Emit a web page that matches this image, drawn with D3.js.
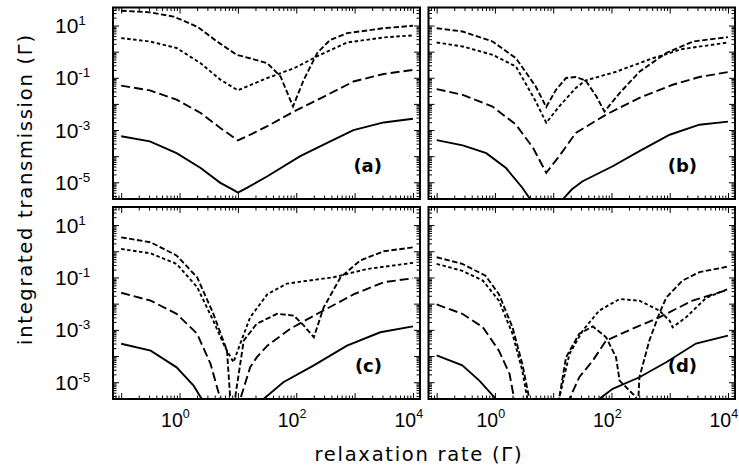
<!DOCTYPE html>
<html>
<head>
<meta charset="utf-8">
<script src="https://cdn.jsdelivr.net/npm/d3@7"></script>
<style>
body { margin: 0; background: #fff; }
</style>
</head>
<body>
<div id="graph"></div>
<script>
'use strict';

// each curve is a list of [relaxation rate, integrated transmission]
// points at 1e-6 sit below the plotted range (the curve dips out of the box)
const a_solid = [[0.1, 5.8e-4], [0.31, 3.7e-4], [0.89, 1.3e-4], [2.3, 3.5e-5], [5, 9.5e-6], [8.5, 5e-6], [10, 4.0e-6], [14.5, 6.2e-6], [32, 1.7e-5], [117, 1.0e-4], [339, 3.2e-4], [955, 1.0e-3], [3162, 1.95e-3], [10000, 2.7e-3]];
const a_long = [[0.1, 5.0e-2], [0.31, 3.3e-2], [0.89, 1.45e-2], [2.3, 4.5e-3], [5, 1.2e-3], [10, 4.0e-4], [14.5, 5.8e-4], [32, 1.4e-3], [91, 5.1e-3], [339, 2.2e-2], [955, 7.2e-2], [3162, 0.14], [10000, 0.2]];
const a_dot = [[0.1, 3.3], [0.31, 2.45], [0.89, 1.38], [2.3, 0.36], [5, 8.5e-2], [10, 3.3e-2], [14.5, 4.7e-2], [32, 9.8e-2], [91, 0.23], [257, 0.76], [741, 2.24], [3162, 3.5], [10000, 4.2]];
const a_dash = [[0.1, 37], [0.31, 32], [0.79, 22], [2, 9.1], [4.4, 2.45], [9.5, 0.76], [16, 0.56], [32, 0.36], [54, 0.11], [88, 8e-3], [135, 8.5e-2], [229, 0.89], [380, 2.8], [741, 5.1], [3162, 7.9], [10000, 9.8]];

const b_solid = [[0.1, 4.1e-4], [0.28, 2.6e-4], [0.71, 1.3e-4], [1.55, 3.5e-5], [2.95, 6.2e-6], [4, 2.3e-6], [4.6, 1e-6], [13, 1e-6], [14.8, 2.3e-6], [21, 5.4e-6], [32, 1.1e-5], [105, 4.1e-5], [302, 1.55e-4], [1000, 6.6e-4], [3236, 1.6e-3], [10000, 2.1e-3]];
const b_long = [[0.1, 3.7e-2], [0.28, 2.2e-2], [0.91, 7.9e-3], [2.3, 1.6e-3], [4.5, 2.1e-4], [7.6, 2.3e-5], [12.6, 9.8e-5], [24.5, 7.8e-4], [81, 3.9e-3], [302, 1.7e-2], [1122, 5.4e-2], [3236, 0.107], [10000, 0.166]];
const b_dot = [[0.1, 2.24], [0.28, 1.58], [0.91, 0.76], [2.3, 0.27], [5, 1.26e-2], [7.6, 1.9e-3], [12.6, 7.9e-3], [24.5, 4.1e-2], [36, 7.9e-2], [120, 0.17], [513, 0.56], [1660, 1.26], [10000, 2.24]];
const b_dash = [[0.1, 7.9], [0.28, 5.9], [0.91, 2.45], [2.3, 0.56], [5, 4.7e-2], [7.6, 7.6e-3], [11.2, 3.5e-2], [16.6, 9.8e-2], [24.5, 0.107], [36, 7.9e-2], [55, 1.95e-2], [76, 5.1e-3], [138, 2.6e-2], [302, 0.17], [871, 0.89], [2512, 2.45], [10000, 3.6]];

const c_solid = [[0.1, 2.95e-4], [0.32, 1.6e-4], [0.89, 3.7e-5], [1.74, 7.4e-6], [2.4, 2.3e-6], [2.8, 1e-6], [25, 1e-6], [27.5, 2.3e-6], [60, 1e-5], [200, 4.4e-5], [741, 2.5e-4], [2754, 8.1e-4], [10000, 1.35e-3]];
const c_long = [[0.1, 2.6e-2], [0.32, 1.3e-2], [0.89, 4.1e-3], [2, 7.1e-4], [3.4, 5e-5], [5, 2.3e-6], [5.6, 1e-6], [10.5, 1e-6], [11, 2.3e-6], [16.2, 3.7e-5], [21, 8.9e-5], [32, 2.5e-4], [79, 1.1e-3], [257, 4.7e-3], [977, 2.3e-2], [3162, 6.6e-2], [10000, 9.3e-2]];
const c_dot = [[0.1, 1.23], [0.32, 0.83], [0.89, 0.33], [2, 4.3e-2], [3.8, 2.2e-3], [6, 2.2e-4], [8.4, 5.8e-5], [11, 3.0e-4], [16.2, 3.0e-3], [32, 2.3e-2], [69, 5.8e-2], [200, 8.1e-2], [437, 0.102], [1622, 0.21], [10000, 0.36]];
const c_dash = [[0.1, 3.4], [0.32, 2.2], [0.89, 0.69], [2, 0.102], [3.8, 4.1e-3], [6.5, 1.6e-4], [7.4, 2.3e-6], [7.8, 1e-6], [8.5, 1e-6], [8.9, 2.3e-6], [12.6, 3.9e-4], [21, 1.7e-3], [47, 4.1e-3], [91, 3.5e-3], [135, 1.45e-3], [200, 5.2e-4], [295, 7.2e-3], [575, 0.102], [1259, 0.45], [3162, 1.0], [10000, 1.41]];

const d_solid = [[0.1, 1.05e-4], [0.275, 4.4e-5], [0.54, 1.15e-5], [1.04, 2.3e-6], [1.2, 1e-6], [55, 1e-6], [62, 2.3e-6], [105, 5.6e-6], [302, 1.55e-5], [871, 5.8e-5], [2818, 3.0e-4], [10000, 6.0e-4]];
const d_long = [[0.1, 9.3e-3], [0.275, 4.1e-3], [0.62, 1.26e-3], [1.17, 1.6e-4], [1.78, 2.1e-5], [2.14, 2.3e-6], [2.4, 1e-6], [17, 1e-6], [19, 2.3e-6], [28, 1.55e-5], [48, 6.8e-5], [81, 3.9e-4], [229, 1.1e-3], [661, 3.0e-3], [2455, 1.3e-2], [10000, 3.4e-2]];
const d_dot = [[0.1, 0.33], [0.275, 0.18], [0.62, 7.6e-2], [1.17, 1.3e-2], [2, 7.1e-4], [2.95, 2.8e-5], [3.6, 2.3e-6], [4, 1e-6], [11.5, 1e-6], [12.6, 2.3e-6], [19, 1.2e-4], [32, 9.3e-4], [62, 5.5e-3], [138, 1.5e-2], [302, 1.3e-2], [661, 5.5e-3], [1000, 2.2e-3], [1122, 1.26e-3], [1905, 3.0e-3], [4266, 1.7e-2], [10000, 3.6e-2]];
const d_dash = [[0.1, 0.59], [0.275, 0.33], [0.69, 0.117], [1.17, 2.3e-2], [2, 1.26e-3], [2.95, 5e-5], [3.9, 2.3e-6], [4.3, 1e-6], [11.5, 1e-6], [12.6, 2.3e-6], [16.6, 8.9e-5], [28, 7.1e-4], [48, 1.35e-3], [81, 5.2e-4], [120, 8.9e-5], [138, 1.15e-5], [263, 2.7e-6], [285, 1e-6], [302, 1.55e-5], [447, 3.9e-4], [661, 4.1e-3], [871, 1.7e-2], [1660, 7.6e-2], [3236, 0.16], [10000, 0.26]];

const panel_names = ['(a)', '(b)', '(c)', '(d)'];
const y_tick_values = [10, 0.1, 1e-3, 1e-5];
const y_tick_exps = ['1', '-1', '-3', '-5'];
const x_tick_values = [1, 100, 10000];
const x_tick_exps = ['0', '2', '4'];
const x_title = 'relaxation rate (\u0393)';
const y_title = 'integrated transmission (\u0393)';

// line style per curve: solid, long dash, short dash, medium dash
const dashes = [null, '9,4', '3.5,2.5', '5.5,2.5'];

const panels = [
    { name: panel_names[0], curves: [a_solid, a_long, a_dot, a_dash], col: 0, row: 0 },
    { name: panel_names[1], curves: [b_solid, b_long, b_dot, b_dash], col: 1, row: 0 },
    { name: panel_names[2], curves: [c_solid, c_long, c_dot, c_dash], col: 0, row: 1 },
    { name: panel_names[3], curves: [d_solid, d_long, d_dot, d_dash], col: 1, row: 1 }
];

const width = 739, height = 468;
const cols = [[113, 420], [428.5, 735]];
const rows = [[7.5, 199], [207, 399]];

const svg = d3.select('#graph')
      .append('svg')
      .attr('width', width)
      .attr('height', height);

const num_font = '"Liberation Sans", Arial, sans-serif';
const title_font = '"DejaVu Sans", sans-serif';

function power_label(g, px, py, exp, size, sup_size, shift) {
    const t = g.append('text')
        .attr('x', px)
        .attr('y', py)
        .attr('text-anchor', 'start')
        .attr('font-family', num_font)
        .attr('font-size', size);
    t.append('tspan').text('10');
    t.append('tspan').attr('dy', -shift).attr('font-size', sup_size).text(exp);
}

panels.forEach((p, pi) => {
    const [x0, x1] = cols[p.col];
    const [y0, y1] = rows[p.row];

    const x = d3.scaleLog().domain([0.0724, 13200]).range([x0, x1]);
    const y = d3.scaleLog().domain([2.29e-6, 49]).range([y1, y0]);

    const is_major = v => Math.abs(Math.log10(v) - Math.round(Math.log10(v))) < 1e-6;
    const xt = x.ticks(), yt = y.ticks();
    const x_major = xt.filter(is_major), x_minor = xt.filter(v => !is_major(v));
    const y_major = yt.filter(is_major), y_minor = yt.filter(v => !is_major(v));

    const g = svg.append('g');

    // ticks on all four sides, pointing inward
    const axes = [
        [d3.axisBottom, x, `translate(0,${y1})`, x_major, x_minor],
        [d3.axisTop, x, `translate(0,${y0})`, x_major, x_minor],
        [d3.axisLeft, y, `translate(${x0},0)`, y_major, y_minor],
        [d3.axisRight, y, `translate(${x1},0)`, y_major, y_minor]
    ];
    axes.forEach(([axis, scale, tr, major, minor]) => {
        [[major, 6], [minor, 3.5]].forEach(([vals, len]) => {
            const ax = g.append('g')
                .attr('transform', tr)
                .call(axis(scale).tickValues(vals).tickSize(-len).tickFormat(''));
            ax.select('.domain').remove();
            ax.selectAll('line').attr('stroke', '#000').attr('stroke-width', 1);
        });
    });

    const clip_id = 'clip' + pi;
    svg.append('clipPath').attr('id', clip_id)
        .append('rect')
        .attr('x', x0).attr('y', y0)
        .attr('width', x1 - x0).attr('height', y1 - y0);

    const line = d3.line()
          .x(d => x(d[0]))
          .y(d => y(d[1]));

    g.append('g')
        .attr('clip-path', `url(#${clip_id})`)
        .selectAll('path')
        .data(p.curves)
        .join('path')
        .attr('d', line)
        .attr('fill', 'none')
        .attr('stroke', '#000')
        .attr('stroke-width', 1.9)
        .attr('stroke-dasharray', (d, i) => dashes[i]);

    g.append('rect')
        .attr('x', x0).attr('y', y0)
        .attr('width', x1 - x0).attr('height', y1 - y0)
        .attr('fill', 'none')
        .attr('stroke', '#000')
        .attr('stroke-width', 2);

    g.append('text')
        .attr('x', x1 - 38)
        .attr('y', y1 - 27)
        .attr('text-anchor', 'end')
        .attr('font-family', title_font)
        .attr('font-weight', 'bold')
        .attr('font-size', 18)
        .text(p.name);

    if (p.col === 0) {
        y_tick_values.forEach((v, i) => power_label(g, 55, y(v) + 7.5, y_tick_exps[i], 21, 13.5, 8));
    }
    if (p.row === 1) {
        x_tick_values.forEach((v, i) => power_label(g, x(v) - 18.5, 426.5, x_tick_exps[i], 19.5, 12.5, 8.5));
    }
});

svg.append('text')
    .attr('x', 418)
    .attr('y', 461)
    .attr('text-anchor', 'middle')
    .attr('textLength', 207)
    .attr('font-family', title_font)
    .attr('font-size', 19.5)
    .text(x_title);

svg.append('text')
    .attr('transform', 'translate(32,190) rotate(-90)')
    .attr('text-anchor', 'middle')
    .attr('textLength', 310)
    .attr('font-family', title_font)
    .attr('font-size', 19.5)
    .text(y_title);
</script>
</body>
</html>
